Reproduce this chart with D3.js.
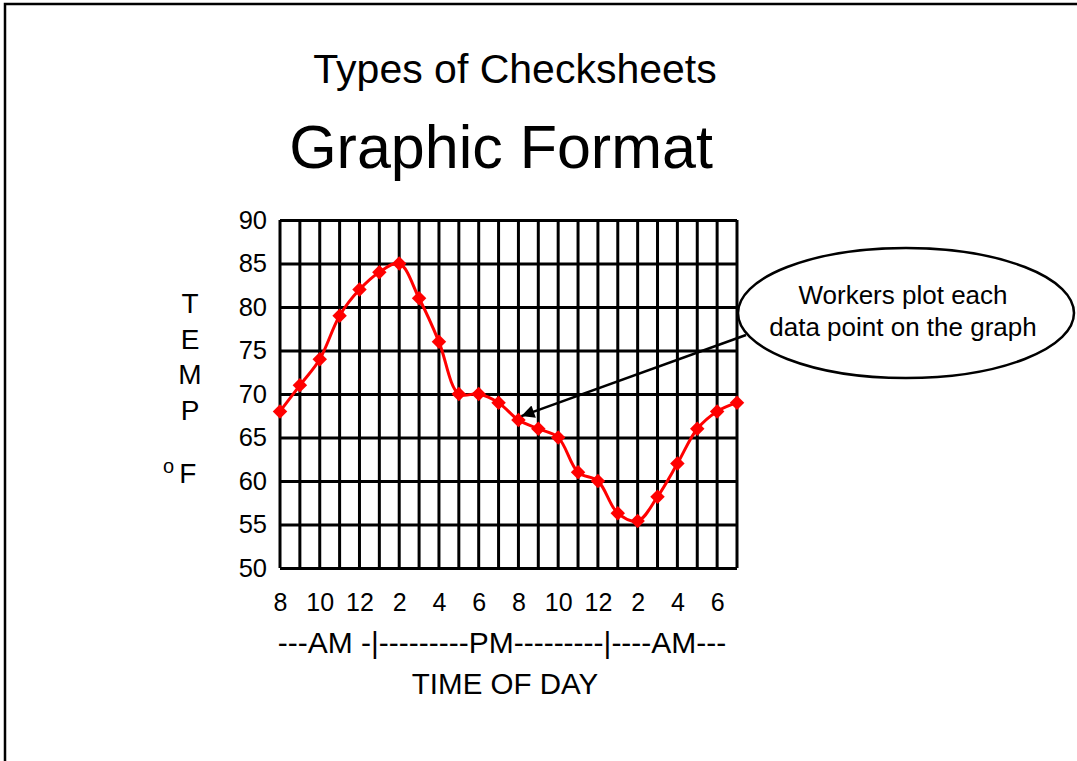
<!DOCTYPE html>
<html>
<head>
<meta charset="utf-8">
<script src="https://cdn.jsdelivr.net/npm/d3@7"></script>
<style>
  body { margin: 0; background: #fff; }
  svg text { font-family: "Liberation Sans", Arial, sans-serif; fill: #000; }
</style>
</head>
<body>
<div id="chart"></div>
<script>
// hours along the bottom, 8 AM through 7 AM the next day
const hours = [8, 9, 10, 11, 12, 1, 2, 3, 4, 5, 6, 7, 8, 9, 10, 11, 12, 1, 2, 3, 4, 5, 6, 7];
const temps = [68, 71, 74, 79, 82, 84, 85, 81, 76, 70, 70, 69, 67, 66, 65, 61, 60, 56.3, 55.4, 58.2, 62, 66, 68, 69];
const yTicks = [50, 55, 60, 65, 70, 75, 80, 85, 90];
const yLetters = ["T", "E", "M", "P"];
const periodLabel = "---AM -|---------PM---------|----AM---";
const noteLines = ["Workers plot each", "data point on the graph"];
const pointedIndex = 12; // the 8 PM reading the callout points at

const W = 1077, H = 761;
const plot = { left: 280, right: 737, top: 220, bottom: 568 };

const svg = d3.select("#chart")
    .append("svg")
    .attr("width", W)
    .attr("height", H);

// slide frame, runs off the right and bottom edge
svg.append("rect")
    .attr("x", 5).attr("y", 4)
    .attr("width", W + 20).attr("height", H + 20)
    .attr("fill", "none")
    .attr("stroke", "#000")
    .attr("stroke-width", 2.5);

svg.append("text")
    .attr("x", 515).attr("y", 83)
    .attr("text-anchor", "middle")
    .style("font-size", "41px")
    .text("Types of Checksheets");

svg.append("text")
    .attr("x", 501).attr("y", 168)
    .attr("text-anchor", "middle")
    .style("font-size", "61px")
    .text("Graphic Format");

const x = d3.scaleLinear().domain([0, hours.length - 1]).range([plot.left, plot.right]);
const y = d3.scaleLinear().domain([50, 90]).range([plot.bottom, plot.top]);

// vertical grid, one line per hour
svg.append("g")
    .selectAll("line")
    .data(hours)
    .join("line")
    .attr("x1", (d, i) => x(i)).attr("x2", (d, i) => x(i))
    .attr("y1", plot.top).attr("y2", plot.bottom)
    .attr("stroke", "#000")
    .attr("stroke-width", 3);

// horizontal grid + labels
const yAxis = svg.append("g")
    .attr("transform", `translate(${plot.left},0)`)
    .call(d3.axisLeft(y).tickValues(yTicks).tickSize(-(plot.right - plot.left)).tickPadding(13));
yAxis.select(".domain").remove();
yAxis.selectAll(".tick line").attr("stroke", "#000").attr("stroke-width", 3);
yAxis.selectAll(".tick text")
    .style("font-size", "25.5px")
    .attr("font-family", null);

// x labels every other hour
const xAxis = svg.append("g")
    .attr("transform", `translate(0,${plot.bottom})`)
    .call(d3.axisBottom(x)
        .tickValues(d3.range(0, hours.length, 2))
        .tickFormat(i => hours[i])
        .tickSize(0)
        .tickPadding(25));
xAxis.select(".domain").remove();
xAxis.selectAll(".tick text")
    .style("font-size", "25px")
    .attr("font-family", null);

svg.append("text")
    .attr("x", 502).attr("y", 653)
    .attr("text-anchor", "middle")
    .style("font-size", "30px")
    .text(periodLabel);

svg.append("text")
    .attr("x", 505).attr("y", 694)
    .attr("text-anchor", "middle")
    .style("font-size", "29.5px")
    .text("TIME OF DAY");

// stacked y title
svg.append("g")
    .selectAll("text")
    .data(yLetters)
    .join("text")
    .attr("x", 190)
    .attr("y", (d, i) => 313 + i * 35.5)
    .attr("text-anchor", "middle")
    .style("font-size", "28px")
    .text(d => d);

const degF = svg.append("text")
    .attr("x", 163).attr("y", 483)
    .style("font-size", "28px");
degF.append("tspan").attr("dy", -10).style("font-size", "20px").text("o");
degF.append("tspan").attr("dy", 10).attr("dx", 5).text("F");

// temperature line
const line = d3.line()
    .x((d, i) => x(i))
    .y(d => y(d))
    .curve(d3.curveCatmullRom.alpha(0.5));

svg.append("path")
    .datum(temps)
    .attr("d", line)
    .attr("fill", "none")
    .attr("stroke", "#ff0000")
    .attr("stroke-width", 3);

svg.append("g")
    .selectAll("path")
    .data(temps)
    .join("path")
    .attr("d", d3.symbol(d3.symbolSquare, 105))
    .attr("transform", (d, i) => `translate(${x(i)},${y(d)}) rotate(45)`)
    .attr("fill", "#ff0000");

// callout
const note = { cx: 906, cy: 313, rx: 168, ry: 65 };

const defs = svg.append("defs");
defs.append("marker")
    .attr("id", "arrow")
    .attr("viewBox", "0 0 10 10")
    .attr("refX", 10).attr("refY", 5)
    .attr("markerWidth", 9).attr("markerHeight", 5.5)
    .attr("markerUnits", "userSpaceOnUse")
    .attr("markerWidth", 22).attr("markerHeight", 13)
    .attr("orient", "auto")
    .append("path")
    .attr("d", "M0,0 L10,5 L0,10 Z")
    .attr("fill", "#000");

svg.append("line")
    .attr("x1", 746).attr("y1", 335)
    .attr("x2", x(pointedIndex) + 3).attr("y2", y(temps[pointedIndex]) - 4)
    .attr("stroke", "#000")
    .attr("stroke-width", 2.5)
    .attr("marker-end", "url(#arrow)");

svg.append("ellipse")
    .attr("cx", note.cx).attr("cy", note.cy)
    .attr("rx", note.rx).attr("ry", note.ry)
    .attr("fill", "#fff")
    .attr("stroke", "#000")
    .attr("stroke-width", 2.5);

svg.append("g")
    .selectAll("text")
    .data(noteLines)
    .join("text")
    .attr("x", 903)
    .attr("y", (d, i) => 304 + i * 32)
    .attr("text-anchor", "middle")
    .style("font-size", "26px")
    .text(d => d);
</script>
</body>
</html>
